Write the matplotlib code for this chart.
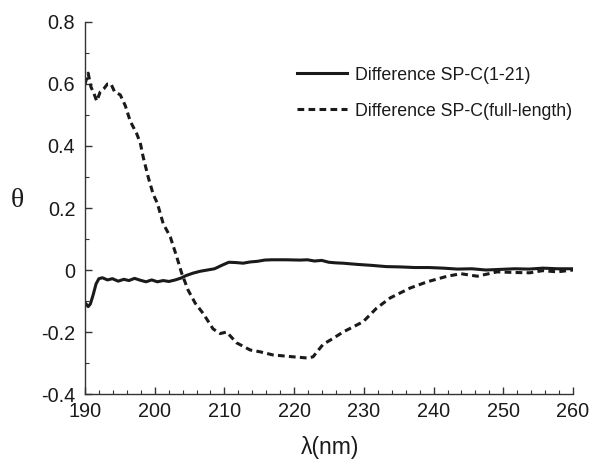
import matplotlib
matplotlib.use("Agg")
import matplotlib.pyplot as plt
from matplotlib.ticker import MultipleLocator

plt.rcParams['font.family'] = ['Liberation Sans', 'DejaVu Sans']

# Difference SP-C(1-21)
wl_solid = [190.0, 190.45, 190.76, 191.17, 191.58, 191.99, 192.5, 193.22, 193.93, 194.76, 195.57, 196.29,
            197.11, 197.93, 198.75, 199.57, 200.38, 201.21, 202.03, 202.95, 203.77, 204.49, 205.51, 206.54,
            207.56, 208.58, 209.61, 210.63, 211.65, 212.68, 213.7, 214.73, 215.75, 216.77, 218.82, 220.87,
            221.9, 222.92, 223.95, 224.97, 226.0, 227.0, 229.1, 231.1, 233.2, 235.2, 237.3, 239.3,
            241.4, 243.4, 245.5, 247.5, 249.6, 251.6, 253.7, 255.7, 257.8, 260.0]
th_solid = [-0.105, -0.118, -0.110, -0.080, -0.045, -0.028, -0.025, -0.032, -0.028, -0.036, -0.030, -0.034,
            -0.027, -0.033, -0.038, -0.032, -0.038, -0.034, -0.037, -0.032, -0.026, -0.018, -0.010, -0.004,
            0.000, 0.004, 0.015, 0.025, 0.024, 0.022, 0.026, 0.028, 0.032, 0.033, 0.033, 0.032,
            0.033, 0.029, 0.031, 0.025, 0.023, 0.022, 0.018, 0.015, 0.011, 0.010, 0.008, 0.008,
            0.006, 0.003, 0.004, 0.000, 0.002, 0.004, 0.003, 0.006, 0.004, 0.004]

# Difference SP-C(full-length)
wl_dash = [190.0, 190.45, 190.86, 191.27, 191.68, 192.19, 192.71, 193.22, 193.73, 194.24, 195.06, 195.78,
           196.49, 197.41, 197.93, 198.34, 199.06, 199.77, 200.38, 201.21, 202.23, 203.15, 203.86, 204.79,
           205.81, 206.94, 208.37, 209.39, 210.32, 211.75, 213.69, 215.13, 216.97, 219.85, 221.99, 222.71,
           224.14, 225.48, 227.02, 229.89, 231.83, 233.78, 236.65, 239.10, 241.97, 243.92, 246.27, 249.14,
           251.6, 253.83, 255.67, 257.72, 260.0]
th_dash = [0.600, 0.635, 0.590, 0.570, 0.545, 0.575, 0.585, 0.600, 0.600, 0.575, 0.565, 0.530,
           0.480, 0.440, 0.410, 0.365, 0.300, 0.245, 0.215, 0.150, 0.107, 0.043, -0.010, -0.065,
           -0.107, -0.140, -0.190, -0.205, -0.200, -0.235, -0.258, -0.264, -0.274, -0.280, -0.284, -0.280,
           -0.240, -0.222, -0.200, -0.167, -0.123, -0.090, -0.058, -0.038, -0.020, -0.012, -0.020, -0.006,
           -0.008, -0.009, -0.002, -0.006, 0.000]

xticks = [190, 200, 210, 220, 230, 240, 250, 260]
yticks = [-0.4, -0.2, 0.0, 0.2, 0.4, 0.6, 0.8]
ytick_labels = ["-0.4", "-0.2", "0", "0.2", "0.4", "0.6", "0.8"]

fig = plt.figure(figsize=(5.92, 4.63), dpi=100)
ax = fig.add_axes([0.1436, 0.149, 0.8243, 0.8035])

ax.plot(wl_solid, th_solid, color='#1a1a1a', lw=2.2, ls='-', label='Difference SP-C(1-21)')
ax.plot(wl_dash, th_dash, color='#1a1a1a', lw=2.2, ls=(0, (2.2, 1.4)), label='Difference SP-C(full-length)')

ax.set_xlim(190, 260)
ax.set_ylim(-0.4, 0.8)
ax.set_xticks(xticks)
ax.set_yticks(yticks)
ax.set_yticklabels(ytick_labels)
ax.xaxis.set_minor_locator(MultipleLocator(2))
ax.yaxis.set_minor_locator(MultipleLocator(0.1))
ax.tick_params(which='both', direction='in', labelsize=14.3, color='#333333', labelcolor='#1a1a1a')
ax.tick_params(which='major', length=5, width=1)
ax.tick_params(which='minor', length=3, width=0.8)
ax.tick_params(axis='x', pad=6)
ax.tick_params(axis='y', pad=7)
for s in ['top', 'right']:
    ax.spines[s].set_visible(False)
for s in ['left', 'bottom']:
    ax.spines[s].set_color('#333333')
    ax.spines[s].set_linewidth(1.0)

ax.set_xlabel('λ(nm)', fontsize=16.5, color='#1a1a1a')
ax.xaxis.set_label_coords(0.502, -0.145)
ax.xaxis.label.set_verticalalignment('center')
ax.set_ylabel('θ', fontsize=20, rotation=0, color='#1a1a1a', family=['Liberation Serif', 'DejaVu Serif'])
ax.yaxis.set_label_coords(-0.138, 0.52)
ax.yaxis.label.set_verticalalignment('center')

leg = ax.legend(loc='upper left', bbox_to_anchor=(0.434, 0.88), frameon=False,
                fontsize=12.8, handlelength=2.8, handletextpad=0.45, labelspacing=1.07,
                borderaxespad=0, borderpad=0)
for t in leg.get_texts():
    t.set_color('#1a1a1a')

fig.savefig('out.png', dpi=100)
